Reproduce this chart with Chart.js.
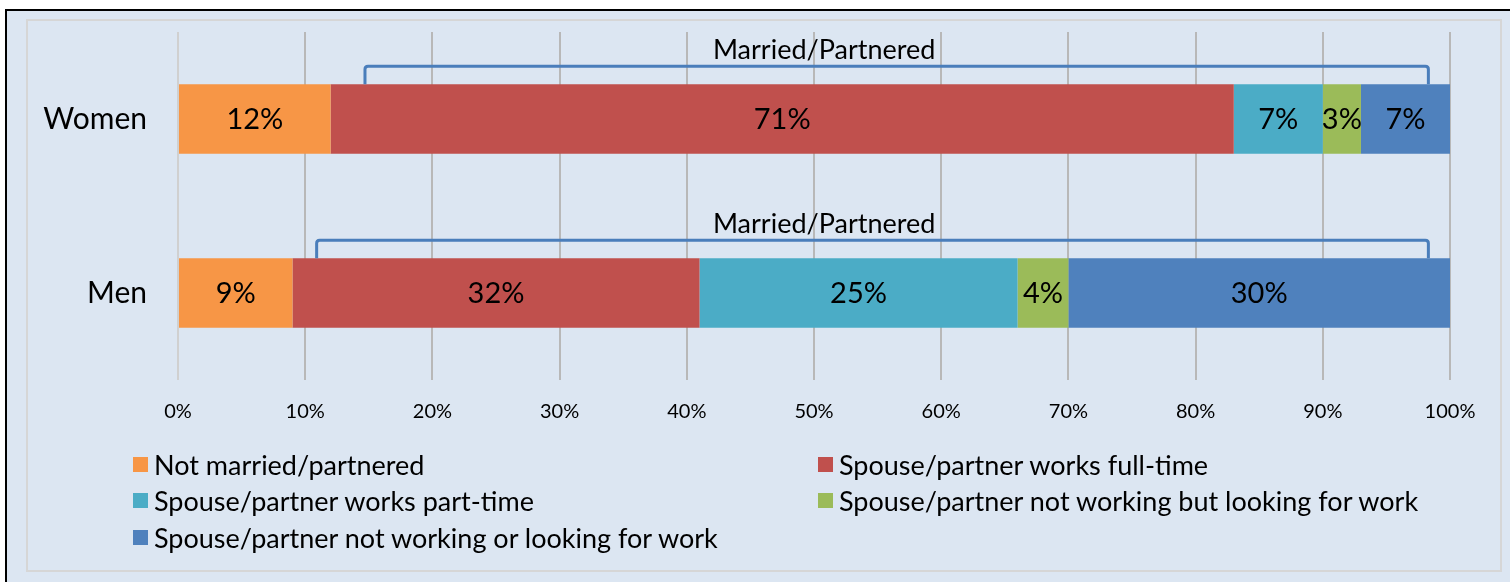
<!DOCTYPE html>
<html>
<head>
<meta charset="utf-8">
<script src="https://cdn.jsdelivr.net/npm/chart.js@4"></script>
<style>
  html, body { margin: 0; padding: 0; background: #fff; }
  body { width: 1510px; height: 582px; position: relative; overflow: hidden; font-family: Lato, sans-serif; }
  #outer { position: absolute; left: 5px; top: 9px; width: 1520px; height: 600px;
           border-left: 2px solid #000; border-top: 2px solid #000; background: #dce6f2; }
  #inner { position: absolute; left: 26px; top: 19px; width: 1472px; height: 549px;
           border: 2px solid #d6d6d6; }
  #wrap { position: absolute; left: 0; top: 0; width: 1510px; height: 582px; }
  #legend { position: absolute; left: 133px; top: 446px; display: grid;
            grid-template-columns: 685px 685px; row-gap: 0; }
  .item { display: flex; align-items: center; height: 36.5px; font-size: 27px; color: #000; white-space: nowrap; }
  .box { width: 15px; height: 15px; margin-right: 6px; flex: none; }
</style>
</head>
<body>
<div id="outer"></div>
<div id="inner"></div>
<div id="wrap"><canvas id="chart" width="1510" height="582"></canvas></div>
<div id="legend"></div>
<script>
const categories = ['Women', 'Men'];
const seriesNames = [
  'Not married/partnered',
  'Spouse/partner works full-time',
  'Spouse/partner works part-time',
  'Spouse/partner not working but looking for work',
  'Spouse/partner not working or looking for work'
];
const notMarried = [12, 9];
const fullTime = [71, 32];
const partTime = [7, 25];
const lookingForWork = [3, 4];
const notLooking = [7, 30];
const colors = ['#f79646', '#c0504d', '#4bacc6', '#9bbb59', '#4f81bd'];
const xTicks = [0, 10, 20, 30, 40, 50, 60, 70, 80, 90, 100];

// "Married/Partnered" bracket spans in % of the axis, per category
const bracketLabel = 'Married/Partnered';
const bracketStart = [14.7, 10.9];
const bracketEnd = [98.3, 98.3];
const bracketLabelAt = 50.8;

const seriesValues = [notMarried, fullTime, partTime, lookingForWork, notLooking];

const segmentLabels = {
  id: 'segmentLabels',
  afterDatasetsDraw(chart) {
    const ctx = chart.ctx;
    ctx.save();
    ctx.font = '29px Lato';
    ctx.fillStyle = '#000';
    ctx.textAlign = 'center';
    ctx.textBaseline = 'middle';
    chart.data.datasets.forEach((ds, i) => {
      chart.getDatasetMeta(i).data.forEach((bar, j) => {
        const x = (bar.base + bar.x) / 2;
        ctx.fillText(ds.data[j] + '%', x, bar.y + 1);
      });
    });
    ctx.restore();
  }
};

const brackets = {
  id: 'brackets',
  afterDatasetsDraw(chart) {
    const ctx = chart.ctx;
    const xs = chart.scales.x;
    const meta = chart.getDatasetMeta(0);
    ctx.save();
    ctx.strokeStyle = '#4a7ebb';
    ctx.lineWidth = 3;
    ctx.lineJoin = 'round';
    categories.forEach((c, j) => {
      const bar = meta.data[j];
      const barTop = bar.y - bar.height / 2;
      const top = barTop - 18;
      const x1 = xs.getPixelForValue(bracketStart[j]);
      const x2 = xs.getPixelForValue(bracketEnd[j]);
      ctx.beginPath();
      ctx.moveTo(x1, barTop);
      ctx.lineTo(x1, top + 3);
      ctx.quadraticCurveTo(x1, top, x1 + 3, top);
      ctx.lineTo(x2 - 3, top);
      ctx.quadraticCurveTo(x2, top, x2, top + 3);
      ctx.lineTo(x2, barTop);
      ctx.stroke();
      ctx.font = '27px Lato';
      ctx.fillStyle = '#000';
      ctx.textAlign = 'center';
      ctx.textBaseline = 'middle';
      ctx.fillText(bracketLabel, xs.getPixelForValue(bracketLabelAt), top - 16);
    });
    ctx.restore();
  }
};

const chart = new Chart(document.getElementById('chart'), {
  type: 'bar',
  data: {
    labels: categories,
    datasets: seriesNames.map((name, i) => ({
      label: name,
      data: seriesValues[i],
      backgroundColor: colors[i],
      borderWidth: 0,
      barPercentage: 0.4,
      categoryPercentage: 1
    }))
  },
  options: {
    indexAxis: 'y',
    responsive: false,
    animation: false,
    layout: { padding: { left: 0, top: 32, right: 60, bottom: 152 } },
    plugins: { legend: { display: false }, tooltip: { enabled: false } },
    scales: {
      x: {
        stacked: true,
        min: 0,
        max: 100,
        afterBuildTicks: s => { s.ticks = xTicks.map(v => ({ value: v })); },
        afterFit: s => { s.height = 50; },
        ticks: {
          callback: v => v + '%',
          font: { family: 'Lato', size: 20 },
          color: '#000',
          padding: 20,
          maxRotation: 0
        },
        grid: {
          color: c => c.index === 0 ? '#d0d0d0' : '#b8b8b8',
          lineWidth: 2,
          drawTicks: false
        },
        border: { display: false }
      },
      y: {
        stacked: true,
        afterFit: s => { s.width = 178; s.paddingTop = 0; s.paddingBottom = 0; },
        ticks: {
          font: { family: 'Lato', size: 30 },
          color: '#000',
          padding: 31
        },
        grid: { display: false, drawTicks: false },
        border: { display: false }
      }
    }
  },
  plugins: [segmentLabels, brackets]
});

// legend in two columns, like the original
const legend = document.getElementById('legend');
chart.data.datasets.forEach(ds => {
  const item = document.createElement('div');
  item.className = 'item';
  const box = document.createElement('span');
  box.className = 'box';
  box.style.background = ds.backgroundColor;
  const txt = document.createElement('span');
  txt.textContent = ds.label;
  item.appendChild(box);
  item.appendChild(txt);
  legend.appendChild(item);
});
</script>
</body>
</html>
